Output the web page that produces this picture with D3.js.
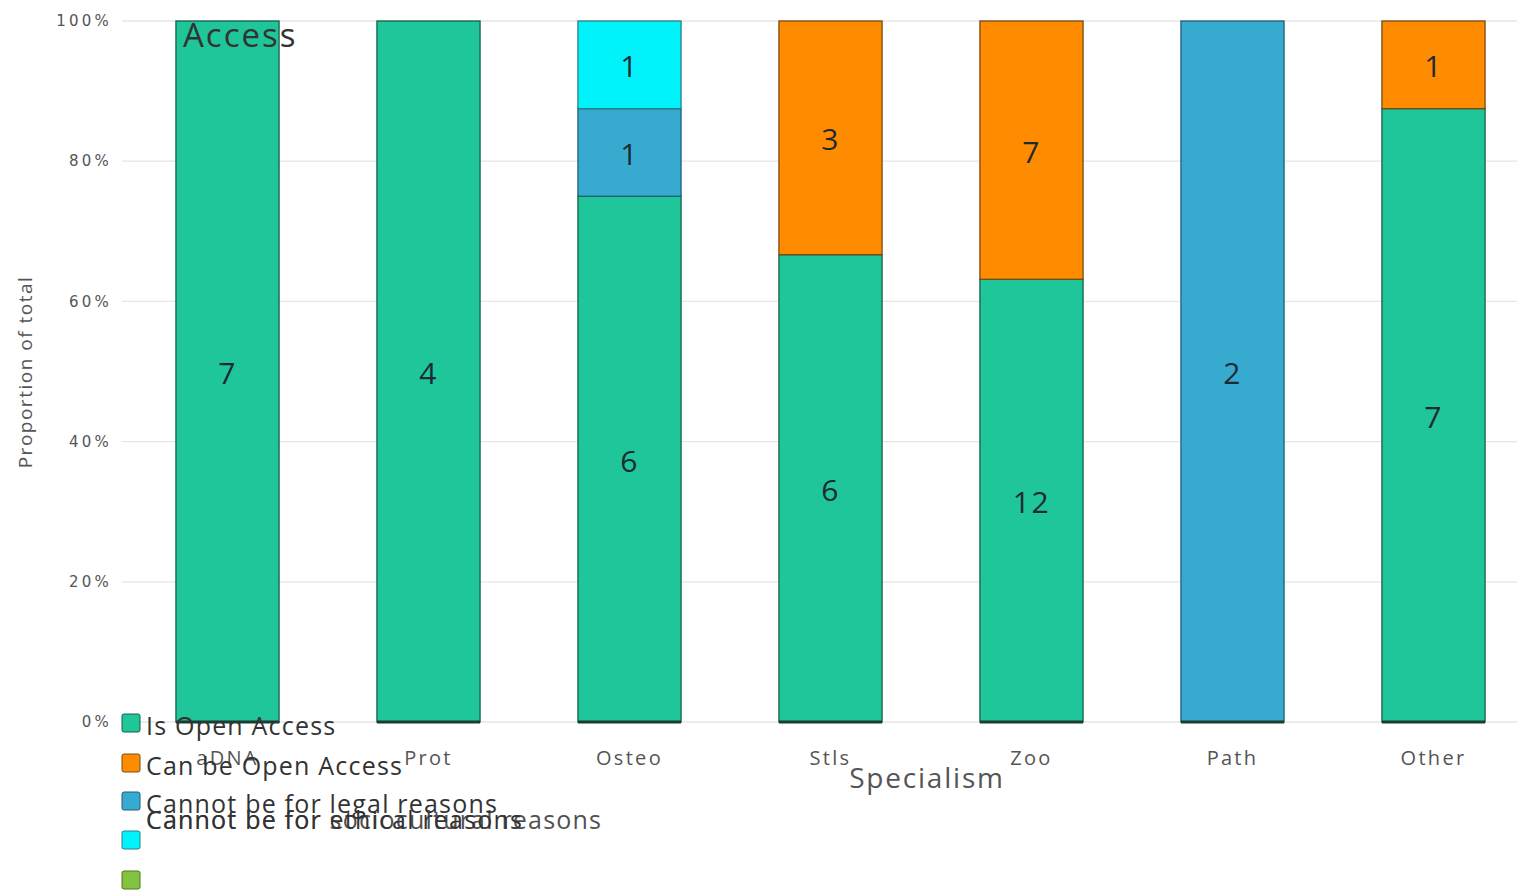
<!DOCTYPE html>
<html><head><meta charset="utf-8">
<script src="https://cdn.jsdelivr.net/npm/d3@7"></script>
<style>body{margin:0;background:#fff;}svg{display:block;font-family:"Open Sans","Noto Sans",sans-serif;}</style>
</head><body><svg id="c" width="1517" height="892"></svg>
<script>
const categories = ["aDNA","Prot","Osteo","Stls","Zoo","Path","Other"];
const seriesNames = ["Is Open Access","Can be Open Access","Cannot be for legal reasons","Cannot be for ethical reasons","Cannot be for sociocultural reasons"];
const isOpen  = [7,4,6,6,12,0,7];
const canBe   = [0,0,0,3,7,0,1];
const legal   = [0,0,1,0,0,2,0];
const ethical = [0,0,1,0,0,0,0];
const cultural= [0,0,0,0,0,0,0];
const yTicks = [0,0.2,0.4,0.6,0.8,1];
const colors = ["#1fc69a","#ff8c00","#36aacf","#00f3fb","#84c341"];
const strokes = ["#155f48","#7a4a10","#1f5f78","#2a7f88","#4a7a20"];

const series = [isOpen,canBe,legal,ethical,cultural];
const svg = d3.select("#c");
const W = 1517;
const x = d3.scaleBand().domain(categories).range([127, W + 17]).paddingInner(0.487).paddingOuter(0.2435);
const y = d3.scaleLinear().domain([0,1]).range([722, 21]);

// gridlines
svg.append("g").selectAll("line").data(yTicks).join("line")
  .attr("x1", 122).attr("x2", W).attr("y1", d=>y(d)).attr("y2", d=>y(d))
  .attr("stroke", "#e6e6e6").attr("stroke-width", 1.3);
// y tick labels
svg.append("g").selectAll("text").data(yTicks).join("text")
  .attr("x", 112).attr("y", d=>y(d)).attr("dy","0.35em")
  .attr("text-anchor","end").attr("font-size",15).attr("letter-spacing",3.2)
  .attr("font-family","'DejaVu Sans', sans-serif").attr("fill","#555")
  .text(d=>d3.format(".0%")(d));

// stacked data
const rows = categories.map((c,i)=>{const o={cat:c}; seriesNames.forEach((s,j)=>o[s]=series[j][i]); return o;});
const stack = d3.stack().keys(seriesNames).offset(d3.stackOffsetExpand);
const stacked = stack(rows);

const g = svg.append("g");
stacked.forEach((layer,j)=>{
  g.append("g").selectAll("rect").data(layer.filter(d=>d[1]-d[0]>0)).join("rect")
    .attr("x", d=>x(d.data.cat)).attr("width", x.bandwidth())
    .attr("y", d=>y(d[1])).attr("height", d=>y(d[0])-y(d[1]))
    .attr("fill", colors[j]).attr("stroke", strokes[j]).attr("stroke-width", 1.3);
});
// bottom dark edge
g.append("g").selectAll("line").data(categories).join("line")
  .attr("x1", d=>x(d)).attr("x2", d=>x(d)+x.bandwidth())
  .attr("y1", y(0)).attr("y2", y(0)).attr("stroke","#1b3b33").attr("stroke-width",3);
// value labels
stacked.forEach((layer,j)=>{
  g.append("g").selectAll("text").data(layer.filter(d=>d[1]-d[0]>0)).join("text")
    .attr("x", d=>x(d.data.cat)+x.bandwidth()/2).attr("y", d=>y((d[0]+d[1])/2))
    .attr("dy","0.42em").attr("text-anchor","middle").attr("font-size",30).attr("fill","#1e2a33")
    .attr("letter-spacing",1.5)
    .text(d=>d.data[seriesNames[j]]);
});

// x labels
svg.append("g").selectAll("text").data(categories).join("text")
  .attr("x", d=>x(d)+x.bandwidth()/2).attr("y", 765).attr("text-anchor","middle")
  .attr("font-size",20).attr("letter-spacing",2.3).attr("fill","#555").text(d=>d);
// axis titles
svg.append("text").attr("x",927).attr("y",788).attr("text-anchor","middle")
  .attr("font-size",28).attr("letter-spacing",1.8).attr("fill","#555").text("Specialism");
svg.append("text").attr("transform","translate(32,372) rotate(-90)").attr("text-anchor","middle")
  .attr("font-size",19).attr("letter-spacing",1.5).attr("fill","#555").text("Proportion of total");
// title fragment
svg.append("text").attr("x",183).attr("y",47).attr("font-size",33).attr("letter-spacing",2)
  .attr("fill","#333").text("Access");

// legend
const legY = [723,763,801,840,880];
const legTextY = [735,775,813,829,829];
const lg = svg.append("g");
seriesNames.forEach((s,j)=>{
  lg.append("rect").attr("x",122).attr("y",legY[j]-9).attr("width",18).attr("height",18).attr("rx",2)
    .attr("fill",colors[j]).attr("stroke",strokes[j]).attr("stroke-width",1);
  lg.append("text").attr("x",146).attr("y",legTextY[j]).attr("font-size",25).attr("letter-spacing",1.2)
    .attr("fill","#333").attr("opacity", j===4?0.85:1).text(s);
});
</script></body></html>
